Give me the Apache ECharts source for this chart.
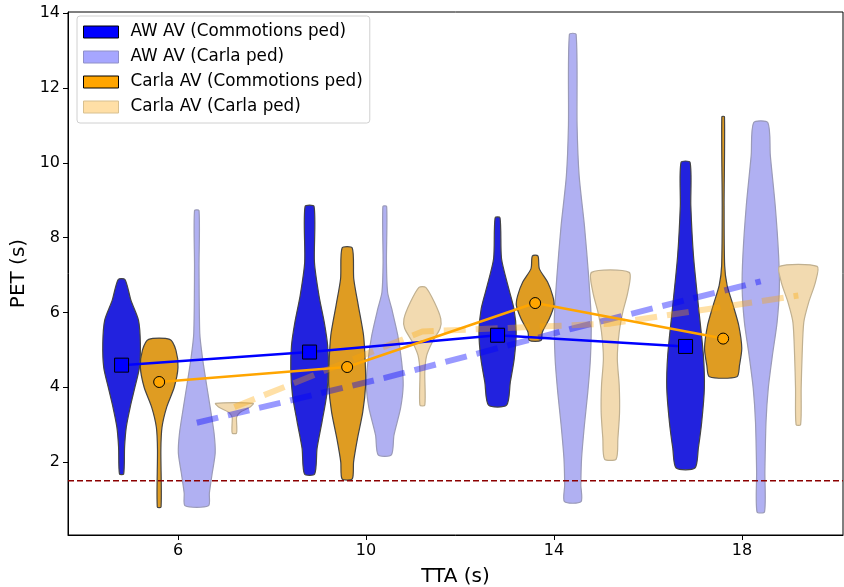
<!DOCTYPE html>
<html>
<head>
<meta charset="utf-8">
<script src="https://cdn.jsdelivr.net/npm/echarts@6/dist/echarts.min.js"></script>
<style>
  html, body { margin: 0; padding: 0; background: #fff; }
  #chart { width: 844px; height: 587px; }
</style>
</head>
<body>
<div id="chart"></div>
<script>
// tick labels
var ttaTicks = [6, 10, 14, 18];
var petTicks = [2, 4, 6, 8, 10, 12, 14];

// violin centres (TTA offset per condition)
var awCommX = [4.8, 8.8, 12.8, 16.8];
var carlaCommX = [5.6, 9.6, 13.6, 17.6];
var awCarlaX = [6.4, 10.4, 14.4, 18.4];
var carlaCarlaX = [7.2, 11.2, 15.2, 19.2];

// violin outlines: [PET, relative width], top to bottom
var awCommProfiles = [
    [[6.88,0.18],[6.32,0.5],[5.79,0.9],[5.17,1.0],[4.53,0.95],[4.0,0.71],[3.47,0.46],[2.93,0.25],[2.4,0.16],[1.68,0.11]],
    [[8.83,0.24],[7.34,0.26],[6.45,0.5],[5.74,0.78],[5.12,0.96],[4.5,1.0],[3.79,0.91],[3.07,0.66],[2.37,0.4],[1.68,0.27]],
    [[8.53,0.13],[7.44,0.21],[6.72,0.55],[6.1,0.87],[5.47,0.99],[4.77,0.89],[4.14,0.68],[3.52,0.48]],
    [[10.01,0.24],[8.85,0.28],[7.52,0.42],[6.19,0.68],[4.85,0.95],[3.97,1.0],[3.07,0.86],[2.37,0.68],[1.84,0.5]]
];
var carlaCommProfiles = [
    [[5.28,0.56],[4.99,0.89],[4.53,1.0],[4.0,0.8],[3.47,0.4],[2.93,0.15],[2.32,0.09],[0.8,0.1]],
    [[7.72,0.27],[6.9,0.35],[6.19,0.59],[5.39,0.87],[4.67,0.96],[4.05,0.98],[3.34,0.83],[2.63,0.55],[2.0,0.34],[1.55,0.27]],
    [[7.51,0.15],[7.17,0.22],[6.81,0.66],[6.45,0.93],[6.19,1.0],[5.83,0.75],[5.47,0.38],[5.25,0.31]],
    [[11.23,0.07],[8.85,0.05],[7.25,0.08],[6.72,0.21],[6.19,0.53],[5.65,0.83],[5.04,0.99],[4.59,0.87],[4.28,0.73]]
];
var awCarlaProfiles = [
    [[8.72,0.12],[7.2,0.12],[5.44,0.16],[4.8,0.3],[4.1,0.51],[3.47,0.71],[2.77,0.92],[2.24,0.98],[1.7,0.82],[1.17,0.67],[0.83,0.62]],
    [[8.83,0.1],[7.34,0.09],[6.54,0.15],[6.1,0.37],[5.39,0.69],[4.67,0.9],[4.05,0.98],[3.44,0.84],[2.72,0.49],[2.19,0.35]],
    [[13.43,0.18],[10.99,0.23],[9.65,0.34],[8.32,0.62],[6.99,0.84],[5.83,0.98],[4.77,0.94],[3.87,0.8],[2.99,0.62],[2.1,0.47],[1.39,0.43],[0.94,0.44]],
    [[11.07,0.38],[10.19,0.51],[8.85,0.77],[7.52,0.95],[6.64,0.99],[5.74,0.87],[4.85,0.62],[3.97,0.4],[3.07,0.28],[1.74,0.22],[0.67,0.2]]
];
var carlaCarlaProfiles = [
    [[3.57,1.0],[3.47,0.84],[3.33,0.31],[3.2,0.12],[3.04,0.12],[2.91,0.13],[2.77,0.11]],
    [[6.67,0.18],[6.27,0.64],[5.83,0.98],[5.57,0.94],[5.21,0.53],[4.85,0.23],[4.41,0.13],[3.52,0.13]],
    [[7.07,1.0],[6.54,0.93],[6.01,0.66],[5.47,0.47],[4.77,0.37],[4.05,0.47],[3.34,0.49],[2.63,0.4],[2.08,0.31]],
    [[7.23,1.0],[6.81,0.91],[6.27,0.55],[5.74,0.29],[4.85,0.2],[3.97,0.15],[3.0,0.12]]
];

// mean PET per TTA
var awCommMean = [4.59, 4.94, 5.39, 5.09];
var carlaCommMean = [4.14, 4.54, 6.25, 5.30];
var awCarlaMean = [3.05, 4.25, 5.57, 6.83];
var carlaCarlaMean = [3.47, 5.49, 5.70, 6.45];

var threshold = 1.5;

var chart = echarts.init(document.getElementById('chart'));
var FONT = 'DejaVu Sans';
var HALF = 0.4; // half of violin width in TTA units

function violinSeries(name, xs, profiles, fill, edge) {
    return {
        name: name,
        type: 'custom',
        z: 2,
        itemStyle: { color: fill },
        data: xs.map(function (x, i) { return [x, profiles[i][0][0]]; }),
        renderItem: function (params, api) {
            var x = api.value(0);
            var prof = profiles[params.dataIndex];
            var left = prof.map(function (p) { return api.coord([x - p[1] * HALF, p[0]]); });
            var right = prof.slice().reverse().map(function (p) { return api.coord([x + p[1] * HALF, p[0]]); });
            return {
                type: 'polygon',
                shape: { points: left.concat(right), smooth: 0.25 },
                style: { fill: fill, stroke: edge, lineWidth: 1.2 }
            };
        }
    };
}

function pairs(xs, ys) {
    return xs.map(function (x, i) { return [x, ys[i]]; });
}

var option = {
    animation: false,
    grid: {
        left: 68, right: 1, top: 12, bottom: 52,
        containLabel: false, outerBoundsMode: 'none',
        show: true, borderColor: '#000', borderWidth: 1
    },
    legend: {
        orient: 'vertical',
        left: 77,
        top: 16,
        padding: [7, 7, 7, 6],
        itemWidth: 35,
        itemHeight: 12,
        itemGap: 7,
        icon: 'rect',
        backgroundColor: 'rgba(255,255,255,0.85)',
        borderColor: '#d0d0d0',
        borderWidth: 1,
        borderRadius: 3,
        formatter: function (name) { return '{g|}' + name; },
        textStyle: {
            fontFamily: FONT, fontSize: 16.8, color: '#000', lineHeight: 18,
            rich: { g: { width: 7 } }
        },
        data: [
            { name: 'AW AV (Commotions ped)', itemStyle: { color: '#0000ff', borderColor: '#000', borderWidth: 1 } },
            { name: 'AW AV (Carla ped)', itemStyle: { color: '#a6a6ff', borderColor: '#9090c8', borderWidth: 1 } },
            { name: 'Carla AV (Commotions ped)', itemStyle: { color: '#ffa500', borderColor: '#000', borderWidth: 1 } },
            { name: 'Carla AV (Carla ped)', itemStyle: { color: '#ffdfa6', borderColor: '#d8c090', borderWidth: 1 } }
        ]
    },
    xAxis: {
        type: 'value',
        min: 3.66,
        max: 20.15,
        name: 'TTA (s)',
        nameLocation: 'middle',
        nameGap: 32,
        nameTextStyle: { fontFamily: FONT, fontSize: 20, color: '#000' },
        splitLine: { show: false },
        axisLine: { onZero: false, lineStyle: { color: '#000', width: 1 } },
        axisTick: { show: true, length: 5, lineStyle: { color: '#000' }, customValues: ttaTicks },
        axisLabel: { fontFamily: FONT, fontSize: 16, color: '#000', margin: 8, customValues: ttaTicks }
    },
    yAxis: {
        type: 'value',
        min: 0.05,
        max: 14.03,
        name: 'PET (s)',
        nameLocation: 'middle',
        nameGap: 31,
        nameTextStyle: { fontFamily: FONT, fontSize: 20, color: '#000' },
        splitLine: { show: false },
        axisLine: { show: true, onZero: false, lineStyle: { color: '#000', width: 1 } },
        axisTick: { show: true, length: 5, lineStyle: { color: '#000' }, customValues: petTicks },
        axisLabel: { fontFamily: FONT, fontSize: 16, color: '#000', margin: 8, customValues: petTicks }
    },
    series: [
        violinSeries('AW AV (Commotions ped)', awCommX, awCommProfiles, '#2222de', '#444'),
        violinSeries('AW AV (Carla ped)', awCarlaX, awCarlaProfiles, '#b0b0f2', '#9a9ab8'),
        violinSeries('Carla AV (Commotions ped)', carlaCommX, carlaCommProfiles, '#df9c22', '#444'),
        violinSeries('Carla AV (Carla ped)', carlaCarlaX, carlaCarlaProfiles, '#f2dab0', '#c0b090'),
        {
            type: 'line',
            z: 3,
            data: [[3.66, threshold], [20.15, threshold]],
            symbol: 'none',
            lineStyle: { color: '#8b0000', width: 1.5, type: [6, 3] },
            silent: true
        },
        {
            type: 'line',
            z: 4,
            data: pairs(awCarlaX, awCarlaMean),
            symbol: 'none',
            lineStyle: { color: 'rgba(0,0,255,0.4)', width: 6, type: [22, 10] },
            silent: true
        },
        {
            type: 'line',
            z: 4,
            data: pairs(carlaCarlaX, carlaCarlaMean),
            symbol: 'none',
            lineStyle: { color: 'rgba(255,165,0,0.35)', width: 6, type: [22, 10] },
            silent: true
        },
        {
            type: 'line',
            z: 5,
            data: pairs(awCommX, awCommMean),
            symbol: 'rect',
            symbolSize: 14,
            itemStyle: { color: '#0000ff', borderColor: '#000', borderWidth: 1 },
            lineStyle: { color: '#0000ff', width: 2.5 },
            silent: true
        },
        {
            type: 'line',
            z: 5,
            data: pairs(carlaCommX, carlaCommMean),
            symbol: 'circle',
            symbolSize: 11,
            itemStyle: { color: '#ffa500', borderColor: '#000', borderWidth: 1 },
            lineStyle: { color: '#ffa500', width: 2.5 },
            silent: true
        }
    ]
};
chart.setOption(option);
</script>
</body>
</html>
